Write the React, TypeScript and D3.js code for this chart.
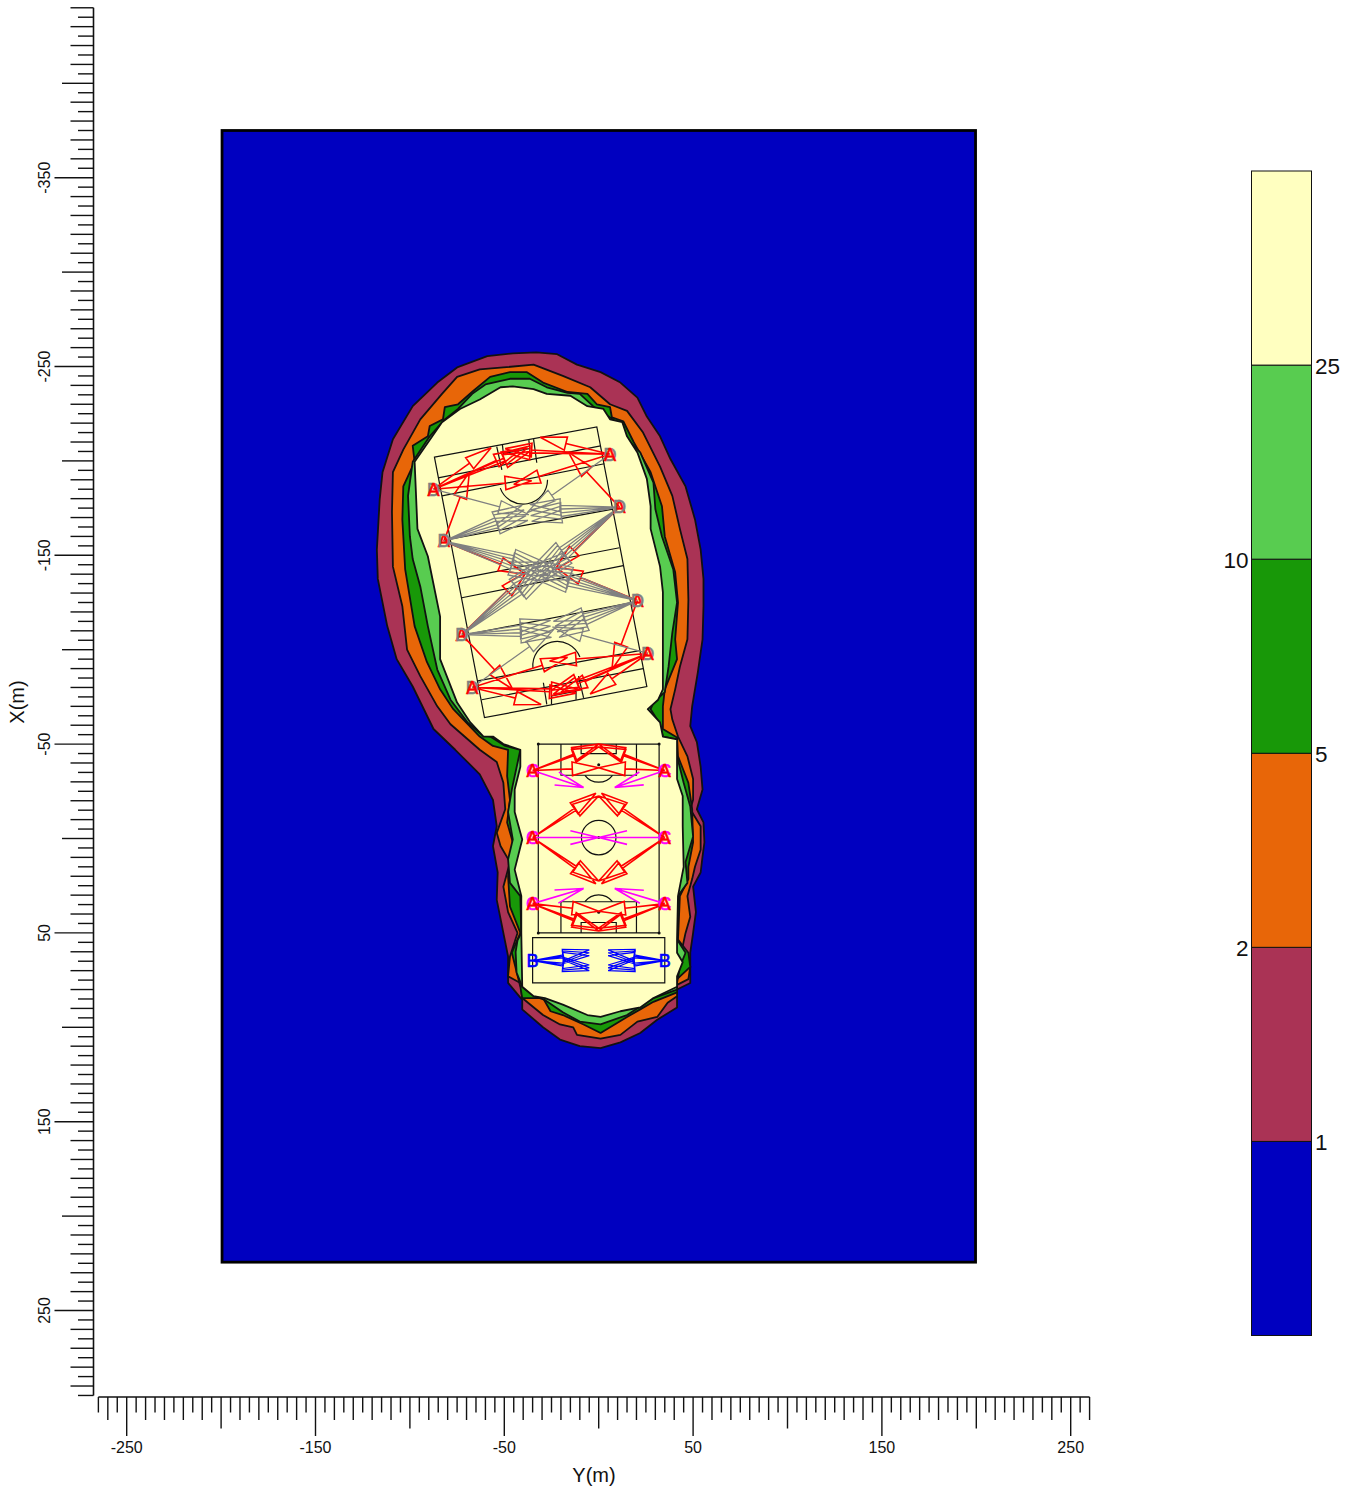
import React from "react";
import * as d3 from "d3";

type P = [number, number]; // [Y metres, X metres]

const colours = ["#0000C0", "#AA3355", "#E86608", "#189808", "#58CC50", "#FFFFC0"];
const legendLabels = ["1", "2", "5", "10", "25", ""];

const contour1: P[] = [[-33,-257.5],[-22,-256.5],[-11.5,-251],[1,-247],[11.5,-241.5],[20.5,-233.5],[25.5,-223.5],[32.5,-213],[38,-201],[46,-186.5],[51,-169],[54,-153],[55.5,-137.5],[55.5,-123],[55,-105.5],[52.5,-88],[49.5,-70],[48.5,-59.5],[52,-51],[54,-38],[55,-26],[52,-15.5],[55.5,-8.5],[56,2],[55,9.5],[54,18],[50,25.5],[51.5,39],[50,50],[48.5,60.5],[48.5,76.5],[41.5,80],[41.5,89.5],[31,96],[22,103],[11.5,108],[1,111],[-10,110],[-20.5,106.5],[-29.5,100],[-40.5,90.5],[-40.5,85.5],[-48,76.5],[-48,62.5],[-50.5,50],[-54,32.5],[-53.5,18],[-56,4],[-54,-6.5],[-56,-20.5],[-63,-34],[-76,-47],[-87.5,-58],[-98.5,-80.5],[-107,-95],[-112,-112.5],[-117,-137.5],[-117.5,-153],[-116,-179.5],[-114.5,-194],[-109,-211.5],[-98.5,-229],[-85.5,-241.5],[-75,-249.5],[-59,-255.5],[-45.5,-257]];
const contour2: P[] = [[-50.5,-249.5],[-34.5,-251],[-19,-245],[-4.5,-239],[6,-230],[15,-226.5],[23.5,-215],[32.5,-197],[39,-181.5],[43,-164],[47,-148],[47.5,-126.5],[47,-105.5],[43,-91],[40.5,-79],[38,-68.5],[39,-63],[42,-54],[47,-43.5],[50,-31.5],[50,-20.5],[48.5,-15.5],[54,-6.5],[54,6],[51,15],[49.5,21.5],[47,30.5],[48.5,41.5],[46,50],[44.5,57],[48.5,68],[47.5,74.5],[41.5,77.5],[41.5,83.5],[36.5,87],[31,94.5],[20.5,97],[11.5,104],[1,106],[-11.5,104],[-13.5,100],[-20.5,98.5],[-29.5,93.5],[-40.5,84.5],[-41.5,76.5],[-48,73],[-47,62.5],[-43,50],[-48,39],[-50.5,25.5],[-47,12.5],[-52,4],[-54,-3],[-49.5,-15.5],[-50.5,-29.5],[-54,-40.5],[-63,-47],[-78.5,-60.5],[-85.5,-70],[-94.5,-86],[-101.5,-100],[-104,-123],[-109,-144],[-109.5,-173],[-109,-194],[-103.5,-206],[-94.5,-222],[-83,-235.5],[-75,-244.5],[-63,-248.5]];
const contour3: P[] = [[-47,-247],[-38,-247],[-29.5,-241.5],[-16.5,-236.5],[-6,-235.5],[-1,-230],[6,-228.5],[7,-223],[13,-221],[18.5,-210],[27.5,-194],[33.5,-176],[35,-160],[40.5,-141],[42,-125],[40.5,-105.5],[41.5,-95],[35,-79],[34,-70],[34,-58],[41.5,-53.5],[42,-43.5],[47.5,-29.5],[49.5,-15.5],[50,2],[47.5,15],[47.5,21.5],[43,30.5],[42,53.5],[47.5,60.5],[48.5,68],[41.5,74.5],[41.5,81.5],[29,86.5],[22,90.5],[15,94.5],[1,103],[-8,98.5],[-19,93.5],[-25.5,91.5],[-29.5,84.5],[-40.5,84.5],[-41.5,78.5],[-46,60.5],[-41.5,50],[-47,36],[-48,20],[-45.5,2],[-48.5,-8.5],[-47,-20.5],[-48.5,-33],[-48,-47],[-56,-49],[-63,-54],[-77,-68.5],[-84,-79],[-91,-93.5],[-97.5,-112.5],[-102.5,-142.5],[-104,-169],[-103.5,-186.5],[-97.5,-199.5],[-98.5,-208],[-90.5,-213],[-89.5,-218.5],[-82.5,-222],[-81.5,-228.5],[-74.5,-230],[-66.5,-237],[-57.5,-244.5]];
const contour4: P[] = [[-47,-243.5],[-36.5,-243.5],[-27.5,-239],[-16.5,-236],[-10,-235.5],[-3,-229],[6,-223],[12.5,-218.5],[15,-211.5],[22,-204.5],[29,-188.5],[30,-174.5],[33.5,-160],[39.5,-142.5],[41.5,-125],[39,-109],[37,-91],[35,-77.5],[29,-72],[27.5,-68.5],[32.5,-60.5],[34,-54],[41.5,-52.5],[41.5,-43.5],[45,-29.5],[48.5,-17],[50,-1],[46,12.5],[47,23.5],[42,30.5],[41.5,53.5],[46,60.5],[43,68],[41.5,76.5],[41.5,80],[29,84.5],[15,93.5],[1,98.5],[-10,97],[-19,92],[-28.5,85.5],[-34.5,83.5],[-40.5,78.5],[-43.5,71],[-44,60],[-43,54],[-41,50],[-41.5,30.5],[-47,23.5],[-48,11],[-45.5,0.5],[-48,-14],[-46,-26],[-41.5,-47],[-49.5,-49],[-57.5,-54],[-62,-55],[-69.5,-61.5],[-78.5,-73.5],[-85.5,-89.5],[-90.5,-112.5],[-94.5,-133.5],[-98.5,-148],[-100,-160],[-101,-181.5],[-98.5,-199.5],[-89.5,-213],[-81.5,-222],[-74.5,-227.5],[-67,-235.5],[-60,-240.5]];
const contour5: P[] = [[-45.5,-239.5],[-34.5,-238],[-27.5,-235.5],[-15,-234.5],[-6,-229],[2.5,-227.5],[6,-222],[12.5,-220.5],[15,-213],[20.5,-204.5],[25.5,-190.5],[27.5,-176],[27.5,-164],[32.5,-144],[34,-130.5],[34,-117.5],[34,-96.5],[34,-79],[31.5,-73.5],[26,-68.5],[32.5,-61.5],[34,-54],[41.5,-52.5],[41.5,-31.5],[44.5,-22.5],[44.5,-6.5],[45,15],[42,30.5],[41.5,53.5],[41.5,60.5],[44.5,65.5],[41.5,73],[41.5,78.5],[29,84.5],[22,89.5],[11.5,91.5],[1,94.5],[-6,93.5],[-19,88],[-28.5,84.5],[-34.5,83.5],[-40.5,78.5],[-41,50],[-41,30.5],[-44.5,16.5],[-40.5,0.5],[-44.5,-14],[-44.5,-26],[-41.5,-38],[-41.5,-47],[-50.5,-50],[-56,-54],[-61,-54],[-68,-61.5],[-75,-72],[-84,-95],[-84,-117.5],[-90.5,-149.5],[-96,-164],[-97.5,-199.5],[-83,-220.5],[-73.5,-227.5],[-63,-232.5],[-52,-239]];
const contours = [contour1, contour2, contour3, contour4, contour5];

// upper (rotated) field
const upperOutline: P[] = [[-87,-202],[-1,-218],[25.5,-80.5],[-60.5,-64]];
const upperLines: P[][] = [
  [[-85,-191],[1,-208]],
  [[-83,-181.5],[3,-198.5]],
  [[-79,-158.5],[7.5,-174.5]],
  [[-74.5,-137.5],[11,-154]],
  [[-72.5,-127.5],[13,-144.5]],
  [[-70,-108],[17.5,-125]],
  [[-64,-83.5],[21.5,-99.5]],
  [[-62,-73.5],[23.5,-90]],
  [[-54,-207.5],[-51.3,-195.2]],
  [[-34.5,-211.5],[-32.8,-199]],
  [[-51,-208.5],[-50.5,-204],[-36.5,-206.5],[-37,-211]],
  [[-29.3,-82.5],[-27.5,-71]],
  [[-10.7,-86],[-8,-74.5]],
  [[-25,-71],[-25,-75.5],[-12,-78],[-12,-73.5]],
];
const upperArcs = [
  { centre: [-40, -190] as P, r: 12.9, from: 0, to: 160 },
  { centre: [-22, -91.5] as P, r: 12.9, from: 174, to: 339 },
];

// lower field
const lowerOutline: P[] = [[-32,-50],[32,-50],[32,50],[-32,50]];
const lowerLines: P[][] = [
  [[-20,-50],[-20,-33.5],[20,-33.5],[20,-50]],
  [[-9.3,-50],[-9.3,-45],[9.3,-45],[9.3,-50]],
  [[-20,50],[-20,33.5],[20,33.5],[20,50]],
  [[-9.3,50],[-9.3,44.5],[9.3,44.5],[9.3,50]],
];
const lowerArcs = [
  { centre: [0, -0.5] as P, r: 9.15, from: 0, to: 360 },
  { centre: [0, -39] as P, r: 9.15, from: 37, to: 143 },
  { centre: [0, 39] as P, r: 9.15, from: 217, to: 323 },
];
const lowerDots: P[] = [[-32,-50],[32,-50],[32,50],[-32,50],[0,-0.5],[0,-39],[0,39]];
const blueBox: P[] = [[-35,52.5],[35,52.5],[35,76.5],[-35,76.5]];

// aiming: pole -> list of aim tips
type Aim = { pole: P; tips: P[] };
const pole1: P = [-87.5,-185], pole2: P = [6,-203.5], pole3: P = [-82,-157.5], pole4: P = [11,-175.5];
const pole5: P = [-72.5,-108], pole6: P = [20.5,-126], pole7: P = [-67,-80], pole8: P = [26,-98];
const redAims: Aim[] = [
  { pole: pole1, tips: [[-57,-207],[-35.5,-189.5],[-37.5,-207],[-36.5,-205],[-41.5,-206]] },
  { pole: pole2, tips: [[-31,-212.5],[-45,-187.5],[-50.5,-204.5],[-49.5,-206.5]] },
  { pole: pole3, tips: [[-68.5,-194],[-39,-140]] },
  { pole: pole4, tips: [[-16,-204.5],[-23,-142.5]] },
  { pole: pole5, tips: [[-45.5,-79],[-38.5,-141]] },
  { pole: pole6, tips: [[7,-89.5],[-22.5,-143.5]] },
  { pole: pole7, tips: [[-30.5,-71],[-16.5,-96],[-11,-79],[-12,-77]] },
  { pole: pole8, tips: [[-4.5,-76.5],[-26,-94],[-24,-76.5],[-25,-78.5],[-20,-77.5]] },
  { pole: [-35,-36], tips: [[0,-37.5],[0,-50],[0,-48.5]] },
  { pole: [35,-36], tips: [[0,-37.5],[0,-50],[0,-48.5]] },
  { pole: [-35,-0.5], tips: [[-1.5,-24],[0,-22.5],[0,22.5],[-1.5,24]] },
  { pole: [35,-0.5], tips: [[1.5,-24],[0,-22.5],[0,22.5],[1.5,24]] },
  { pole: [-35,34.5], tips: [[0,38.5],[0,49],[0,47.5]] },
  { pole: [35,34.5], tips: [[0,38.5],[0,49],[0,47.5]] },
];
const greyAims: Aim[] = [
  { pole: pole1, tips: [[-37,-171.5]] },
  { pole: pole2, tips: [[-38,-172.5]] },
  { pole: pole3, tips: [[-40.5,-176.5],[-39.5,-174],[-38.5,-171],[-37.5,-168.5],[-29,-146.5],[-30,-144],[-30.5,-141.5],[-31,-139],[-32,-136.5]] },
  { pole: pole4, tips: [[-36.5,-177],[-36,-174],[-36,-171],[-35.5,-168],[-34,-145],[-32.5,-143],[-31,-141],[-29.5,-139],[-28,-137]] },
  { pole: pole5, tips: [[-25,-106.5],[-25.5,-109.5],[-25.5,-112.5],[-25.5,-115.5],[-27,-138.5],[-29,-140.5],[-30.5,-142.5],[-32,-144.5],[-33.5,-146]] },
  { pole: pole6, tips: [[-21,-106.5],[-22,-109.5],[-23,-112.5],[-24,-115],[-32.5,-137],[-31.5,-139.5],[-31,-142],[-30,-144.5],[-29.5,-146.5]] },
  { pole: pole7, tips: [[-23.5,-111]] },
  { pole: pole8, tips: [[-24.5,-112]] },
];
const magentaAims: Aim[] = [
  { pole: [-35,-36], tips: [[-8,-27]] },
  { pole: [35,-36], tips: [[8.5,-27]] },
  { pole: [-35,-0.5], tips: [[0,-0.5]] },
  { pole: [35,-0.5], tips: [[0,-0.5]] },
  { pole: [-35,34.5], tips: [[-8,26.5]] },
  { pole: [35,34.5], tips: [[8.5,26.5]] },
];
const blueAims: Aim[] = [
  { pole: [-35,64.7], tips: [[-5,59],[-5,60.5],[-5,62],[-5,67],[-5,68.5],[-5,70]] },
  { pole: [35,64.7], tips: [[5,59],[5,60.5],[5,62],[5,67],[5,68.5],[5,70]] },
];

const yAxisLabels = [-350,-250,-150,-50,50,150,250];
const xAxisLabels = [-250,-150,-50,50,150,250];
const yAxisTicks = d3.range(-440, 296, 5);
const xAxisTicks = d3.range(-265, 261, 5);
const plotY: [number, number] = [-199.5, 199.6];
const plotX: [number, number] = [-375, 224.4];

const sy = d3.scaleLinear().domain([-200, 200]).range([221.1, 976.3]);
const sx = d3.scaleLinear().domain([-375, 225]).range([130.5, 1263.3]);
const FONT = "'Liberation Sans', Arial, sans-serif";
const toPx = (p: P): [number, number] => [sy(p[0]), sx(p[1])];
const line = d3.line<P>().x((d) => sy(d[0])).y((d) => sx(d[1]));
const closedLine = (pts: P[]) => (line(pts) ?? "") + "Z";

function arrow(pole: P, tip: P, closed: boolean, len: number, half: number) {
  const dy = pole[0] - tip[0], dx = pole[1] - tip[1];
  const n = Math.hypot(dy, dx) || 1;
  const uy = dy / n, ux = dx / n;
  const base: P = [tip[0] + uy * len, tip[1] + ux * len];
  const b1: P = [base[0] - ux * half, base[1] + uy * half];
  const b2: P = [base[0] + ux * half, base[1] - uy * half];
  if (closed) return (line([pole, base]) ?? "") + closedLine([b1, tip, b2]);
  return (line([pole, tip]) ?? "") + (line([b1, tip, b2]) ?? "");
}
const aimPath = (aims: Aim[], closed: boolean, len: number, half: number) =>
  aims.flatMap((a) => a.tips.map((t) => arrow(a.pole, t, closed, len, half))).join("");

function arcPath(a: { centre: P; r: number; from: number; to: number }) {
  const p = d3.path();
  const [cx, cy] = toPx(a.centre);
  const r = Math.abs(sy(a.r) - sy(0));
  const a0 = (a.from * Math.PI) / 180, a1 = (a.to * Math.PI) / 180;
  p.moveTo(cx + r * Math.cos(a0), cy + r * Math.sin(a0));
  p.arc(cx, cy, r, a0, a1);
  return p.toString();
}

function tickLen(v: number) {
  if (v % 100 !== 0 && v % 50 === 0) return 39;
  if (v % 50 === 0) return 31.5;
  if (v % 10 === 0) return 23;
  return 15.5;
}

const Mark = ({ p, t, c }: { p: P; t: string; c: string }) => {
  const [x, y] = toPx(p);
  return (
    <text x={x} y={y + 6.3} fontSize={18} fontFamily={FONT} textAnchor="middle" fill={c} stroke={c} strokeWidth={0.6}>
      {t}
    </text>
  );
};

const legendScale = d3.scaleBand<number>().domain([5,4,3,2,1,0]).range([171, 1335.5]);

export default function App() {
  const redTop = [pole1, pole2, pole7, pole8];
  const greyTop = [pole3, pole4, pole5, pole6];
  const lowerPoles: P[] = [[-35,-36],[35,-36],[-35,-0.5],[35,-0.5],[-35,34.5],[35,34.5]];
  const bluePoles = blueAims.map((a) => a.pole);
  return (
    <svg width={1348} height={1490} style={{ position: "absolute", left: 0, top: 0, display: "block" }}>
      <rect width={1348} height={1490} fill="#fff" />
      {/* Left axis */}
      <path d={`M93.5,${sx(-440)}V${sx(295)}`} stroke="#111" strokeWidth={1.6} fill="none" />
      {yAxisTicks.map((v) => (
        <line key={v} x1={93.5} x2={93.5 - tickLen(v)} y1={sx(v)} y2={sx(v)} stroke="#111" strokeWidth={1.4} />
      ))}
      {yAxisLabels.map((v) => (
        <text key={v} transform={`translate(49.5,${sx(v)}) rotate(-90)`} fontSize={16} fontFamily={FONT} textAnchor="middle" fill="#111">{v}</text>
      ))}
      <text transform="translate(24,702) rotate(-90)" fontSize={20} fontFamily={FONT} textAnchor="middle" fill="#111">X(m)</text>
      {/* Bottom axis */}
      <path d={`M${sy(-265)},1397H${sy(260)}`} stroke="#111" strokeWidth={1.6} fill="none" />
      {xAxisTicks.map((v) => (
        <line key={v} x1={sy(v)} x2={sy(v)} y1={1397} y2={1397 + tickLen(v)} stroke="#111" strokeWidth={1.4} />
      ))}
      {xAxisLabels.map((v) => (
        <text key={v} x={sy(v)} y={1453} fontSize={16} fontFamily={FONT} textAnchor="middle" fill="#111">{v}</text>
      ))}
      <text x={594} y={1482} fontSize={20} fontFamily={FONT} textAnchor="middle" fill="#111">Y(m)</text>

      {/* Plot */}
      <rect x={sy(plotY[0])} y={sx(plotX[0])} width={sy(plotY[1]) - sy(plotY[0])} height={sx(plotX[1]) - sx(plotX[0])} fill={colours[0]} stroke="#000" strokeWidth={2.8} />
      {contours.map((c, i) => (
        <path key={i} d={closedLine(c)} fill={colours[i + 1]} stroke="#111" strokeWidth={1.8} strokeLinejoin="round" />
      ))}

      {/* Fields */}
      <g fill="none" stroke="#111" strokeWidth={1.2}>
        <path d={closedLine(upperOutline)} />
        {upperLines.map((l, i) => <path key={i} d={line(l) ?? ""} />)}
        {upperArcs.map((a, i) => <path key={i} d={arcPath(a)} />)}
        <path d={closedLine(lowerOutline)} />
        {lowerLines.map((l, i) => <path key={i} d={line(l) ?? ""} />)}
        {lowerArcs.map((a, i) => <path key={i} d={arcPath(a)} />)}
        <path d={closedLine(blueBox)} />
      </g>
      {lowerDots.map((p, i) => {
        const [x, y] = toPx(p);
        return <circle key={i} cx={x} cy={y} r={1.5} fill="#111" />;
      })}

      {/* Aiming */}
      <path d={aimPath(magentaAims, false, 15, 3.6)} fill="none" stroke="#FF00FF" strokeWidth={1.6} />
      <path d={aimPath(blueAims, true, 14, 3)} fill="none" stroke="#0000FF" strokeWidth={1.2} />
      <path d={aimPath(redAims, true, 14, 3.6)} fill="none" stroke="#FF0000" strokeWidth={1.6} />
      <path d={aimPath(greyAims, true, 16, 3.4)} fill="none" stroke="#808080" strokeWidth={1.3} />

      {redTop.map((p, i) => <Mark key={i} p={p} t="D" c="#808080" />)}
      {redTop.map((p, i) => <Mark key={i} p={p} t="A" c="#FF0000" />)}
      {greyTop.map((p, i) => <Mark key={i} p={p} t="A" c="#FF0000" />)}
      {greyTop.map((p, i) => <Mark key={i} p={p} t="D" c="#808080" />)}
      {lowerPoles.map((p, i) => <Mark key={i} p={p} t="C" c="#FF00FF" />)}
      {lowerPoles.map((p, i) => <Mark key={i} p={p} t="A" c="#FF0000" />)}
      {bluePoles.map((p, i) => <Mark key={i} p={p} t="B" c="#0000FF" />)}

      {/* Legend */}
      {colours.map((c, i) => (
        <rect key={i} x={1251.5} y={legendScale(i)} width={60} height={legendScale.bandwidth()} fill={c} stroke="#111" strokeWidth={1} />
      ))}
      {legendLabels.map((t, i) =>
        t ? (
          <text key={i} x={i % 2 === 0 ? 1315 : 1248.5} y={(legendScale(i) ?? 0) + 9} fontSize={22.5} fontFamily={FONT}
            textAnchor={i % 2 === 0 ? "start" : "end"} fill="#111">{t}</text>
        ) : null
      )}
    </svg>
  );
}
